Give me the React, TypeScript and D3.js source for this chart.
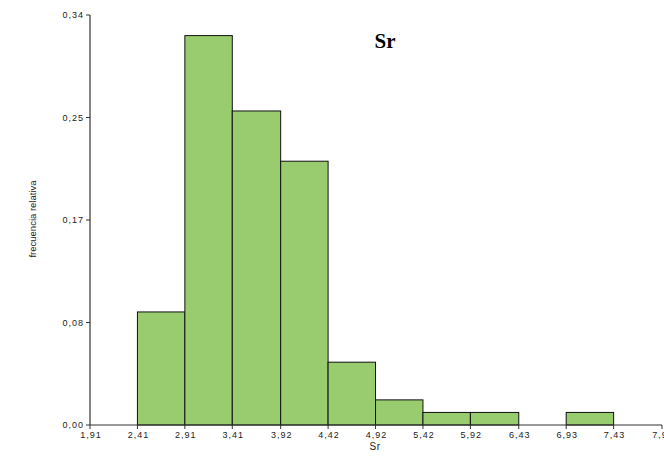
import React from "react";
import * as d3 from "d3";

// Histogram of Sr: bin edges, relative frequencies (n = 96) and tick labels
const binEdges = [1.91, 2.41, 2.91, 3.41, 3.92, 4.42, 4.92, 5.42, 5.92, 6.43, 6.93, 7.43, 7.94];
const binCounts = [0, 9, 31, 25, 21, 5, 2, 1, 1, 0, 1, 0];
const sampleSize = 96;
const relFreq = binCounts.map((c) => c / sampleSize);

const xTickLabels = ["1,91", "2,41", "2,91", "3,41", "3,92", "4,42", "4,92", "5,42", "5,92", "6,43", "6,93", "7,43", "7,94"];
const yTickValues = [0, 0.085, 0.17, 0.255, 0.34];
const yTickLabels = ["0,00", "0,08", "0,17", "0,25", "0,34"];

const W = 664;
const H = 458;
const left = 90;
const right = 662;
const top = 15;
const bottom = 425;

export default function App() {
  const x = d3.scaleLinear().domain([binEdges[0], binEdges[binEdges.length - 1]]).range([left, right]);
  const y = d3.scaleLinear().domain([0, 0.34]).range([bottom, top]);
  const font = "Arial, 'Liberation Sans', sans-serif";
  const axisColor = "#333";

  return (
    <svg
      width={W}
      height={H}
      style={{ position: "absolute", left: 0, top: 0, background: "#fff" }}
      fontFamily={font}
    >
      {/* bars */}
      {relFreq.map((v, i) =>
        v > 0 ? (
          <rect
            key={i}
            x={x(binEdges[i])}
            y={y(v)}
            width={x(binEdges[i + 1]) - x(binEdges[i])}
            height={bottom - y(v)}
            fill="#99cc6f"
            stroke="#111"
            strokeWidth={1}
          />
        ) : null
      )}

      {/* y axis */}
      <line x1={left} x2={left} y1={top} y2={bottom} stroke={axisColor} strokeWidth={1.2} />
      {yTickValues.map((t, i) => (
        <g key={i}>
          <line x1={left - 4} x2={left} y1={y(t)} y2={y(t)} stroke={axisColor} strokeWidth={1} />
          <text x={left - 6} y={y(t) + 3} fontSize={9} letterSpacing={1} textAnchor="end" fill="#222">
            {yTickLabels[i]}
          </text>
        </g>
      ))}

      {/* x axis */}
      <line x1={left} x2={right} y1={bottom} y2={bottom} stroke={axisColor} strokeWidth={1.2} />
      {binEdges.map((e, i) => (
        <g key={i}>
          <line x1={x(e)} x2={x(e)} y1={bottom} y2={bottom + 4} stroke={axisColor} strokeWidth={1} />
          <text x={x(e) + 1} y={bottom + 13} fontSize={9} letterSpacing={1} textAnchor="middle" fill="#222">
            {xTickLabels[i]}
          </text>
        </g>
      ))}

      {/* axis titles */}
      <text x={(left + right) / 2 - 1} y={bottom + 25} fontSize={10} letterSpacing={0.5} textAnchor="middle" fill="#222">
        Sr
      </text>
      <text
        transform={`translate(36, 219) rotate(-90)`}
        fontSize={9.5}
        textAnchor="middle"
        fill="#222"
      >
        frecuencia relativa
      </text>

      {/* chart title */}
      <text
        x={385}
        y={48}
        fontSize={21}
        fontWeight="bold"
        textAnchor="middle"
        fontFamily="'Liberation Serif', 'DejaVu Serif', serif"
        fill="#000"
      >
        Sr
      </text>
    </svg>
  );
}
